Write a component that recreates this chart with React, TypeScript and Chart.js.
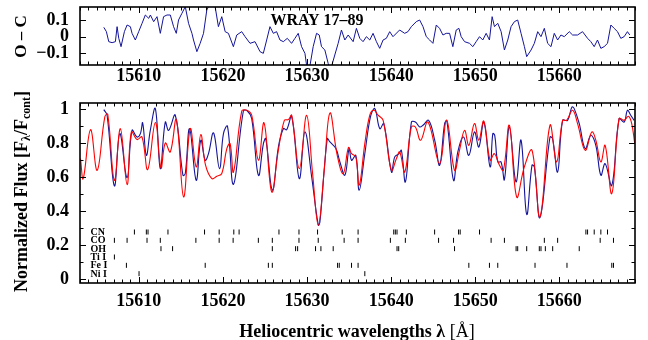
import React, { useEffect, useRef } from 'react';
import { Chart, registerables } from 'chart.js';

Chart.register(...registerables);

const FONT = "'Liberation Serif', 'Times New Roman', serif";
const BLUE = '#14149a';
const RED = '#ff0000';

const X_MIN = 15603;
const X_MAX = 15669;
const xTickValues = [15610, 15620, 15630, 15640, 15650, 15660];
const fluxTicks = [0, 0.2, 0.4, 0.6, 0.8, 1];
const fluxMinor = [0.1, 0.3, 0.5, 0.7, 0.9];
const ocTicks = [-0.1, 0, 0.1];

// Observed spectrum (blue)
const obsWave = [15605.83, 15606.22, 15607.09, 15607.73, 15608.60, 15609.19, 15609.78, 15610.18, 15610.45, 15610.89, 15611.36, 15611.96, 15612.55, 15613.14, 15613.54, 15614.33, 15615.24, 15615.52, 15616.03, 15616.82, 15617.37, 15617.89, 15618.28, 15618.88, 15619.59, 15620.06, 15620.54, 15621.25, 15622.43, 15622.91, 15623.42, 15624.22, 15624.81, 15625.09, 15625.88, 15626.59, 15627.18, 15627.58, 15628.17, 15629.08, 15629.75, 15630.55, 15631.34, 15631.53, 15632.40, 15632.72, 15633.43, 15633.91, 15634.50, 15635.01, 15635.29, 15635.80, 15636.20, 15636.87, 15637.54, 15638.06, 15638.65, 15639.13, 15640.04, 15640.43, 15640.94, 15641.22, 15641.70, 15642.41, 15642.88, 15643.40, 15643.79, 15644.46, 15645.18, 15645.77, 15646.36, 15646.63, 15647.42, 15647.93, 15648.61, 15649.24, 15649.91, 15650.43, 15651.02, 15651.77, 15652.09, 15652.32, 15652.68, 15653.07, 15653.47, 15654.06, 15654.85, 15655.45, 15656.12, 15656.75, 15657.03, 15657.70, 15658.89, 15659.20, 15659.80, 15660.39, 15660.98, 15661.50, 15661.77, 15662.37, 15663.08, 15663.75, 15664.34, 15664.94, 15665.45, 15666.24, 15667.11, 15667.71, 15668.10, 15668.49, 15668.89];
const obsFlux = [0.998, 0.965, 0.549, 0.857, 0.598, 0.876, 0.837, 0.857, 0.920, 0.729, 0.876, 1.004, 0.651, 0.925, 0.876, 0.965, 0.612, 0.622, 0.886, 0.582, 0.818, 0.700, 0.739, 0.861, 0.651, 0.857, 0.900, 0.559, 0.990, 0.990, 0.945, 0.612, 0.798, 0.827, 0.524, 0.778, 0.886, 0.880, 0.959, 0.592, 0.867, 0.602, 0.318, 0.337, 0.827, 0.808, 0.769, 0.690, 0.612, 0.769, 0.700, 0.729, 0.524, 0.739, 0.955, 1.004, 0.886, 0.916, 0.631, 0.720, 0.739, 0.759, 0.573, 0.925, 0.925, 0.896, 0.906, 0.935, 0.818, 0.671, 0.916, 0.931, 0.582, 0.749, 0.837, 0.729, 0.867, 0.778, 0.925, 0.661, 0.857, 0.847, 0.690, 0.690, 0.586, 0.896, 0.573, 0.818, 0.382, 0.671, 0.661, 0.363, 0.837, 0.827, 0.631, 0.935, 0.935, 1.014, 1.004, 0.916, 0.769, 0.847, 0.788, 0.612, 0.680, 0.553, 0.945, 0.925, 0.994, 0.965, 0.935];

// Synthetic spectrum (red)
const synWave = [15603.06, 15603.38, 15604.25, 15605.04, 15605.95, 15606.30, 15607.09, 15607.80, 15608.60, 15609.11, 15609.78, 15610.37, 15611.05, 15611.96, 15612.63, 15613.14, 15613.74, 15614.45, 15615.32, 15616.11, 15616.82, 15617.37, 15617.93, 15618.68, 15619.27, 15619.86, 15620.46, 15620.85, 15621.25, 15622.24, 15622.83, 15623.42, 15624.22, 15624.89, 15625.80, 15626.59, 15627.30, 15627.78, 15628.17, 15629.08, 15629.95, 15630.66, 15631.34, 15632.01, 15632.72, 15633.59, 15634.30, 15634.93, 15635.29, 15635.80, 15636.20, 15636.87, 15637.46, 15637.94, 15638.45, 15639.05, 15640.04, 15640.63, 15641.02, 15641.62, 15642.41, 15642.88, 15643.51, 15644.38, 15645.77, 15646.60, 15647.54, 15648.13, 15648.73, 15649.24, 15649.91, 15650.43, 15651.02, 15651.77, 15652.28, 15652.88, 15653.35, 15654.06, 15654.93, 15655.84, 15656.75, 15657.70, 15658.89, 15659.68, 15660.39, 15660.86, 15661.58, 15662.17, 15663.08, 15663.87, 15664.34, 15664.94, 15665.45, 15666.24, 15667.11, 15667.71, 15668.22, 15668.61, 15668.97];
const synFlux = [0.710, 0.592, 0.880, 0.641, 0.955, 0.971, 0.582, 0.886, 0.557, 0.867, 0.822, 0.837, 0.645, 0.922, 0.655, 0.802, 0.749, 0.939, 0.484, 0.886, 0.661, 0.851, 0.671, 0.592, 0.606, 0.622, 0.769, 0.798, 0.631, 0.990, 0.994, 0.965, 0.700, 0.920, 0.514, 0.759, 0.935, 0.939, 0.965, 0.651, 0.965, 0.622, 0.318, 0.622, 0.978, 0.729, 0.622, 0.775, 0.739, 0.720, 0.553, 0.798, 0.965, 0.994, 0.965, 0.935, 0.641, 0.710, 0.749, 0.631, 0.896, 0.896, 0.818, 0.925, 0.680, 0.937, 0.641, 0.759, 0.876, 0.788, 0.916, 0.818, 0.931, 0.700, 0.739, 0.671, 0.641, 0.906, 0.484, 0.661, 0.759, 0.367, 0.906, 0.690, 0.935, 0.935, 0.994, 0.916, 0.759, 0.867, 0.818, 0.690, 0.788, 0.504, 0.945, 0.935, 0.959, 0.916, 0.798];

// Observed minus computed (top panel)
const ocWave = [15605.83, 15606.14, 15606.42, 15606.82, 15607.21, 15607.41, 15607.61, 15607.88, 15608.28, 15608.60, 15608.99, 15609.19, 15609.58, 15609.98, 15610.38, 15610.77, 15611.17, 15611.37, 15611.76, 15612.16, 15612.55, 15612.94, 15613.34, 15613.74, 15614.13, 15614.45, 15614.72, 15615.12, 15615.52, 15615.91, 15616.31, 15616.50, 15616.90, 15617.29, 15617.69, 15618.08, 15618.48, 15619.07, 15619.46, 15619.86, 15620.26, 15620.65, 15621.24, 15621.64, 15622.23, 15622.63, 15623.22, 15623.81, 15624.41, 15624.80, 15625.20, 15625.59, 15625.99, 15626.38, 15626.78, 15627.18, 15627.65, 15628.16, 15628.56, 15628.95, 15629.35, 15629.75, 15629.94, 15630.26, 15630.73, 15631.13, 15631.45, 15631.72, 15632.12, 15632.51, 15632.79, 15633.30, 15633.70, 15634.09, 15634.49, 15634.89, 15635.48, 15635.87, 15636.27, 15636.66, 15637.06, 15637.46, 15637.85, 15638.25, 15638.64, 15639.04, 15639.43, 15639.83, 15640.22, 15641.01, 15641.61, 15642.00, 15642.40, 15642.99, 15643.39, 15643.79, 15644.18, 15644.58, 15644.97, 15645.37, 15645.76, 15646.16, 15646.55, 15646.95, 15647.34, 15647.74, 15648.06, 15648.33, 15648.73, 15649.32, 15649.72, 15650.11, 15650.51, 15650.90, 15651.30, 15651.69, 15652.01, 15652.29, 15652.68, 15653.08, 15653.47, 15653.87, 15654.26, 15654.66, 15655.05, 15655.45, 15655.85, 15656.12, 15656.64, 15657.03, 15657.43, 15657.82, 15658.22, 15658.61, 15659.01, 15659.40, 15659.80, 15660.19, 15660.59, 15661.18, 15661.58, 15662.17, 15662.76, 15663.36, 15663.75, 15664.15, 15664.54, 15664.94, 15665.33, 15665.73, 15666.13, 15666.52, 15666.92, 15667.31, 15667.71, 15668.10, 15668.38];
const ocValue = [0.056, 0.030, -0.030, -0.036, -0.030, 0.060, -0.010, -0.060, 0.030, 0.070, 0.060, 0.020, -0.020, 0.030, 0.080, 0.130, 0.110, 0.130, 0.090, 0.120, 0.020, 0.120, 0.130, 0.130, 0.060, 0.020, 0.100, 0.140, 0.180, 0.080, 0.020, -0.020, -0.090, -0.040, 0.020, 0.160, 0.200, 0.180, 0.060, 0.120, 0.030, 0.020, -0.060, 0.010, 0.030, 0.000, -0.040, -0.030, -0.090, -0.100, -0.020, 0.060, 0.020, 0.030, -0.020, -0.030, -0.010, -0.040, -0.010, 0.020, -0.060, -0.100, -0.170, -0.200, -0.060, 0.020, 0.010, -0.060, -0.080, -0.160, -0.200, -0.110, -0.040, 0.040, -0.020, 0.010, -0.030, 0.050, -0.010, -0.030, 0.000, -0.020, 0.020, -0.030, -0.070, -0.020, -0.010, 0.030, 0.000, 0.040, 0.020, 0.030, 0.060, 0.090, 0.100, 0.060, 0.000, -0.020, -0.040, 0.070, 0.050, 0.010, 0.020, 0.020, -0.060, 0.040, 0.050, 0.000, -0.030, -0.040, -0.060, -0.030, 0.000, -0.020, 0.020, -0.020, 0.120, 0.060, 0.080, 0.030, -0.080, -0.020, 0.060, 0.090, 0.100, 0.020, -0.060, -0.120, -0.080, -0.040, 0.030, 0.000, 0.050, -0.040, -0.060, 0.020, -0.020, 0.010, 0.000, 0.030, 0.010, 0.010, 0.030, -0.010, -0.030, -0.060, -0.020, -0.070, -0.060, -0.040, 0.070, 0.050, 0.030, -0.010, 0.000, 0.030, 0.010];

// Line identifications
const lineSpecies = ['CN', 'CO', 'OH', 'Ti I', 'Fe I', 'Ni I'];
const lineRows = [0.278, 0.229, 0.180, 0.131, 0.082, 0.033];
const cnLines = [15609.47, 15610.89, 15611.09, 15613.46, 15617.81, 15619.55, 15621.29, 15621.92, 15626.66, 15629.04, 15631.25, 15634.18, 15636.07, 15640.31, 15640.50, 15640.70, 15641.81, 15645.17, 15648.02, 15648.21, 15650.51, 15663.16, 15663.36, 15664.15, 15664.94, 15665.73];
const coLines = [15607.09, 15608.60, 15610.97, 15612.55, 15616.78, 15619.55, 15621.21, 15624.21, 15625.87, 15629.04, 15631.33, 15634.41, 15636.07, 15639.91, 15641.69, 15645.64, 15647.42, 15651.89, 15653.47, 15658.22, 15659.80, 15664.86, 15666.44];
const ohLines = [15612.63, 15614.01, 15625.87, 15628.64, 15628.88, 15631.01, 15631.65, 15633.11, 15640.70, 15640.90, 15647.54, 15654.86, 15655.05, 15656.12, 15657.62, 15657.82, 15658.34, 15659.21, 15662.37];
const tiLines = [15607.09];
const feLines = [15608.52, 15617.89, 15625.40, 15625.87, 15633.63, 15633.83, 15635.29, 15636.07, 15649.24, 15651.69, 15652.68, 15657.11, 15660.91, 15666.24, 15666.44];
const niLines = [15610.02, 15636.87];
const lineLists = [cnLines, coLines, ohLines, tiLines, feLines, niLines];
const LABEL_X = 15604.25;

const pts = (xs: number[], ys: number[]) => xs.map((x, i) => ({ x, y: ys[i] }));

const framePlugin = {
  id: 'frame',
  afterDraw(chart: any, _a: any, opts: any) {
    const { ctx, chartArea: a, scales } = chart;
    const xs = scales.x;
    const ys = scales.y;
    ctx.save();
    ctx.strokeStyle = '#000';
    ctx.lineWidth = 1;
    ctx.beginPath();
    for (let v = Math.ceil(xs.min); v <= Math.floor(xs.max); v++) {
      const px = Math.round(xs.getPixelForValue(v)) + 0.5;
      const len = v % 10 === 0 ? 6 : 3.5;
      ctx.moveTo(px, a.bottom); ctx.lineTo(px, a.bottom - len);
      ctx.moveTo(px, a.top); ctx.lineTo(px, a.top + len);
    }
    const yt = (vals: number[], len: number) => {
      for (const v of vals) {
        const py = Math.round(ys.getPixelForValue(v)) + 0.5;
        ctx.moveTo(a.left, py); ctx.lineTo(a.left + len, py);
        ctx.moveTo(a.right, py); ctx.lineTo(a.right - len, py);
      }
    };
    yt(opts.yMajor || [], 6);
    yt(opts.yMinor || [], 3.5);
    ctx.stroke();
    ctx.lineWidth = 1.6;
    ctx.strokeRect(a.left, a.top, a.right - a.left, a.bottom - a.top);
    ctx.restore();
  },
};

const topTextPlugin = {
  id: 'topText',
  afterDraw(chart: any) {
    const ctx = chart.ctx;
    ctx.save();
    ctx.fillStyle = '#000';
    ctx.font = `bold 16px ${FONT}`;
    ctx.textAlign = 'center';
    ctx.textBaseline = 'middle';
    ctx.fillText('WRAY 17–89', 317, 21);
    ctx.font = `bold 17px ${FONT}`;
    ctx.translate(22, 36.5);
    ctx.rotate(-Math.PI / 2);
    ctx.fillText('O – C', 0, 0);
    ctx.restore();
  },
};

const mainTextPlugin = {
  id: 'mainText',
  afterDraw(chart: any) {
    const ctx = chart.ctx;
    const xs = chart.scales.x;
    const ys = chart.scales.y;
    ctx.save();
    ctx.fillStyle = '#000';
    // species labels
    ctx.font = `bold 10px ${FONT}`;
    ctx.textAlign = 'left';
    ctx.textBaseline = 'middle';
    lineSpecies.forEach((s, i) => {
      ctx.fillText(s, xs.getPixelForValue(LABEL_X), ys.getPixelForValue(lineRows[i]) + 0.5);
    });
    // x title
    const p1 = 'Heliocentric wavelengths λ ';
    const p2 = '[Å]';
    ctx.font = `bold 18px ${FONT}`;
    const w1 = ctx.measureText(p1).width;
    ctx.font = `18px ${FONT}`;
    const w2 = ctx.measureText(p2).width;
    const x0 = 357 - (w1 + w2) / 2;
    ctx.font = `bold 18px ${FONT}`;
    ctx.fillText(p1, x0, 240);
    ctx.font = `18px ${FONT}`;
    ctx.fillText(p2, x0 + w1, 240);
    // y title with subscripts
    const parts: [string, boolean][] = [
      ['Normalized Flux [F', false], ['λ', true], ['/F', false], ['cont', true], [']', false],
    ];
    const big = `bold 18px ${FONT}`;
    const small = `bold 12px ${FONT}`;
    let total = 0;
    const widths = parts.map(([t, sub]) => {
      ctx.font = sub ? small : big;
      const w = ctx.measureText(t).width;
      total += w;
      return w;
    });
    ctx.translate(22, 99.5);
    ctx.rotate(-Math.PI / 2);
    let cx = -total / 2;
    parts.forEach(([t, sub], i) => {
      ctx.font = sub ? small : big;
      ctx.fillText(t, cx, sub ? 4.5 : 0);
      cx += widths[i];
    });
    ctx.restore();
  },
};

const tickFont = { family: FONT, size: 18, weight: 'bold' as const };

function xScale(height: number, pad: number) {
  return {
    type: 'linear' as const,
    min: X_MIN,
    max: X_MAX,
    grid: { display: false, drawTicks: false },
    border: { display: false },
    ticks: {
      font: tickFont, color: '#000', padding: pad, maxRotation: 0, autoSkip: false,
      callback: (v: any) => String(v),
    },
    afterBuildTicks: (s: any) => { s.ticks = xTickValues.map((v) => ({ value: v })); },
    afterFit: (s: any) => { s.height = height; s.paddingLeft = 0; s.paddingRight = 0; },
  };
}

export default function App() {
  const topRef = useRef<HTMLCanvasElement>(null);
  const mainRef = useRef<HTMLCanvasElement>(null);

  useEffect(() => {
    const top = new Chart(topRef.current!, {
      type: 'line',
      data: {
        datasets: [{
          data: pts(ocWave, ocValue), borderColor: BLUE, borderWidth: 1,
          pointRadius: 0, tension: 0,
        }],
      },
      options: {
        animation: false, responsive: false, devicePixelRatio: 1, events: [],
        layout: { padding: { top: 7, right: 13, left: 0, bottom: 0 } },
        plugins: {
          legend: { display: false }, tooltip: { enabled: false },
          frame: { yMajor: ocTicks, yMinor: [] },
        } as any,
        scales: {
          x: xScale(27, 1),
          y: {
            type: 'linear', min: -0.17, max: 0.178,
            grid: { display: false, drawTicks: false }, border: { display: false },
            ticks: {
              font: tickFont, color: '#000', padding: 11,
              callback: (v: any) => (v === 0 ? '0' : (v < 0 ? '−' : '') + Math.abs(v).toFixed(1)),
            },
            afterBuildTicks: (s: any) => { s.ticks = ocTicks.map((v) => ({ value: v })); },
            afterFit: (s: any) => { s.width = 80; s.paddingTop = 0; s.paddingBottom = 0; },
          },
        },
      },
      plugins: [framePlugin, topTextPlugin],
    } as any);

    const lineSets = lineLists.map((arr, i) => ({
      data: arr.map((x) => ({ x, y: lineRows[i] })),
      showLine: false, pointStyle: 'line', pointRadius: 2.5, pointRotation: 90,
      pointBorderColor: '#000', pointBorderWidth: 1, borderColor: '#000',
    }));

    const main = new Chart(mainRef.current!, {
      type: 'line',
      data: {
        datasets: [
          { data: pts(synWave, synFlux), borderColor: RED, borderWidth: 1.1, pointRadius: 0, tension: 0.4 },
          { data: pts(obsWave, obsFlux), borderColor: BLUE, borderWidth: 1.1, pointRadius: 0, tension: 0.4 },
          ...lineSets,
        ],
      },
      options: {
        animation: false, responsive: false, devicePixelRatio: 1, events: [],
        layout: { padding: { top: 11, right: 13, left: 0, bottom: 0 } },
        plugins: {
          legend: { display: false }, tooltip: { enabled: false },
          frame: { yMajor: fluxTicks, yMinor: fluxMinor },
        } as any,
        scales: {
          x: xScale(57, 8),
          y: {
            type: 'linear', min: -0.022, max: 1.037,
            grid: { display: false, drawTicks: false }, border: { display: false },
            ticks: {
              font: tickFont, color: '#000', padding: 11,
              callback: (v: any) => (v === 0 ? '0' : v === 1 ? '1' : Number(v).toFixed(1)),
            },
            afterBuildTicks: (s: any) => { s.ticks = fluxTicks.map((v) => ({ value: v })); },
            afterFit: (s: any) => { s.width = 80; s.paddingTop = 0; s.paddingBottom = 0; },
          },
        },
      },
      plugins: [framePlugin, mainTextPlugin],
    } as any);

    return () => { top.destroy(); main.destroy(); };
  }, []);

  return (
    <div style={{ position: 'absolute', left: 0, top: 0, width: 648, height: 340, background: '#fff' }}>
      <canvas ref={topRef} width={648} height={92}
        style={{ position: 'absolute', left: 0, top: 0, width: 648, height: 92 }} />
      <canvas ref={mainRef} width={648} height={248}
        style={{ position: 'absolute', left: 0, top: 92, width: 648, height: 248 }} />
    </div>
  );
}
